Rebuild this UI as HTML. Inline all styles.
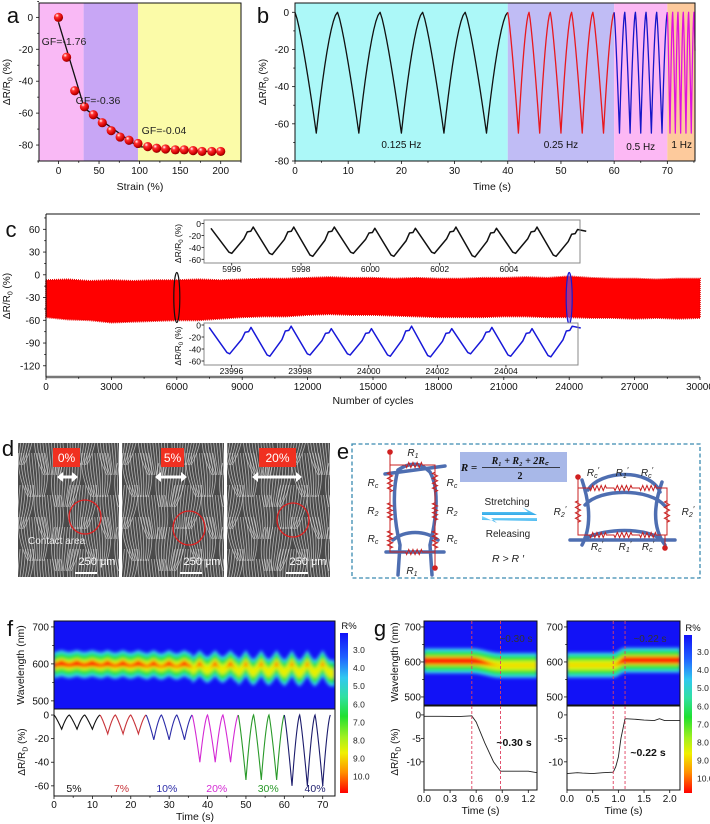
<!DOCTYPE html>
<html><head><meta charset="utf-8"><style>
html,body{margin:0;padding:0;background:#fff;}
svg{display:block;font-family:"Liberation Sans",Arial,sans-serif;}
</style></head><body>
<svg id="chart" width="710" height="824" viewBox="0 0 710 824" xmlns="http://www.w3.org/2000/svg">
<defs>
<radialGradient id="sph" cx="35%" cy="30%" r="70%"><stop offset="0" stop-color="#fff"/><stop offset="0.3" stop-color="#ff3030"/><stop offset="0.8" stop-color="#d00000"/><stop offset="1" stop-color="#800"/></radialGradient>
<linearGradient id="cbar" x1="0" y1="0" x2="0" y2="1"><stop offset="0" stop-color="#1010f8"/><stop offset="0.15" stop-color="#2060ff"/><stop offset="0.28" stop-color="#30c8f0"/><stop offset="0.4" stop-color="#30e0a0"/><stop offset="0.52" stop-color="#20e030"/><stop offset="0.65" stop-color="#a0f020"/><stop offset="0.75" stop-color="#f0f000"/><stop offset="0.87" stop-color="#ff9000"/><stop offset="1" stop-color="#ff0000"/></linearGradient>
<linearGradient id="arrowg" x1="0" y1="0" x2="0" y2="1"><stop offset="0" stop-color="#8ee0ff"/><stop offset="1" stop-color="#30a8e8"/></linearGradient>
<filter id="blur" x="-5%" y="-20%" width="110%" height="140%"><feGaussianBlur stdDeviation="1.6"/></filter>
<clipPath id="clipF"><rect x="54" y="621" width="281" height="88"/></clipPath>
<clipPath id="clipG1"><rect x="424" y="621" width="113" height="84"/></clipPath>
<clipPath id="clipG2"><rect x="567" y="621" width="113" height="84"/></clipPath>
<clipPath id="clipD0"><rect x="18" y="443" width="101" height="134"/></clipPath>
<clipPath id="clipD1"><rect x="122" y="443" width="102" height="134"/></clipPath>
<clipPath id="clipD2"><rect x="227" y="443" width="103" height="134"/></clipPath>
</defs>
</svg>
<script>
// ---------- data ----------
const aStrain = [0,10,20,32,43,54,65,76,87,98,110,121,132,144,155,166,177,189,200];
const aResp = [0,-25,-46,-56,-61,-66,-71,-75,-77,-79,-81,-82,-82.5,-83,-83,-83.5,-84,-84,-84];
const aFitX = [0,32,98,200];
const aFitY = [-3,-57,-81,-84.5];
const aGF = ['GF=-1.76','GF=-0.36','GF=-0.04'];

const bBounds = [0,40,60,70,75.2];
const bFreq = [0.125,0.25,0.5,1];
const bFreqLabel = ['0.125 Hz','0.25 Hz','0.5 Hz','1 Hz'];
const bTrough = [-65,-65,-65,-65];
const bPeak = [0,0,0,0];

const cCycles = [0,1000,2000,3000,4000,5000,6000,7000,8000,9000,10000,11000,12000,13000,14000,15000,16000,17000,18000,19000,20000,21000,22000,23000,24000,25000,26000,27000,28000,29000,30000];
const cTop = [-7,-6,-8,-7,-8,-7,-7,-6,-7,-6,-5,-5,-4,-3,-4,-4,-5,-4,-5,-5,-4,-4,-3,-4,-2,-4,-5,-5,-6,-5,-5];
const cBottom = [-56,-59,-60,-63,-62,-61,-60,-60,-58,-56,-55,-55,-53,-52,-53,-53,-54,-55,-56,-56,-56,-55,-55,-56,-56,-57,-57,-58,-57,-58,-57];
const cTicks = [60,30,0,-30,-60,-90,-120];
const in1Troughs = [-50,-52,-55,-50,-55,-50,-56,-50,-55];
const in1Peaks = [-8,-6,-6,-6,-8,-8,-6,-8,-6,-10];
const in2Troughs = [-48,-52,-50,-50,-52,-53,-48,-52,-53];
const in2Peaks = [-4,-4,-2,-6,-6,-2,-6,-4,-6,-2];

const fTroughs = [-12,-12,-12,-16,-16,-16,-21,-21,-21,-40,-40,-40,-55,-55,-55,-60,-60,-60];
const fLabels = ['5%','7%','10%','20%','30%','40%'];
const fColors = ['#111','#c8343a','#2c2ca8','#d42ad4','#2a9a2a','#1c1c6c'];

const g1T = [0,0.2,0.4,0.55,0.6,0.7,0.8,0.88,1.0,1.2,1.3];
const g1V = [-0.3,-0.3,-0.35,-0.2,-1.5,-6,-10,-12,-12,-12,-12.3];
const g2T = [0,0.2,0.3,0.5,0.7,0.9,0.95,1.0,1.05,1.13,1.3,1.5,1.7,1.8,1.9,2.2];
const g2V = [-12.5,-12.3,-12.4,-12.5,-12.3,-12.2,-11,-9,-5,-0.8,-0.9,-1.1,-1.2,-0.8,-1.2,-1.2];
const cbLabels = ['3.0','4.0','5.0','6.0','7.0','8.0','9.0','10.0'];

// ---------- helpers ----------
const NS='http://www.w3.org/2000/svg';
const S=document.getElementById('chart');
function E(tag,a,p){const e=document.createElementNS(NS,tag);for(const k in a)e.setAttribute(k,a[k]);(p||S).appendChild(e);return e;}
function lin(d0,d1,r0,r1){return v=>r0+(v-d0)/(d1-d0)*(r1-r0);}
function T(x,y,s,fs,anchor,fill,p,extra){const e=E('text',Object.assign({x:x,y:y,'font-size':fs,'text-anchor':anchor||'middle',fill:fill||'#111'},extra||{}),p);e.textContent=s;return e;}
function G(name){const g=E('g',{});return g;}
function dRTitle(x,y,fs,p,name,sub){
  const t=E('text',{x:0,y:0,'font-size':fs,'text-anchor':'middle',fill:'#111',transform:`translate(${x},${y}) rotate(-90)`},p);
  
  
  const a=E('tspan',{},t);a.textContent='ΔR/R';
  const b=E('tspan',{'font-size':fs*0.7,dy:fs*0.25},t);b.textContent=sub||'0';
  const c=E('tspan',{dy:-fs*0.25},t);c.textContent=' (%)';
}
function frame(x0,y0,x1,y1,p,name,stroke,sw){const r=E('rect',{x:x0,y:y0,width:x1-x0,height:y1-y0,fill:'none',stroke:stroke||'#111','stroke-width':sw||1},p);return r;}
function xTicks(vals,sx,y,len,p,labels,fs,ly,name){vals.forEach((v,i)=>{const l=E('line',{x1:sx(v),x2:sx(v),y1:y,y2:y+len,stroke:'#111','stroke-width':0.8},p);if(labels){const t=T(sx(v),ly,labels[i],fs,'middle','#111',p);}});}
function yTicks(vals,sy,x,len,p,labels,fs,lx,name){vals.forEach((v,i)=>{const l=E('line',{x1:x,x2:x-len,y1:sy(v),y2:sy(v),stroke:'#111','stroke-width':0.8},p);if(labels){const t=T(lx,sy(v)+3.5,labels[i],fs,'end','#111',p);}});}
function letter(x,y,s,name){const t=T(x,y,s,22,'middle','#111');}

// ---------- panel a ----------
(function(){
const g=G('panel-a');
const sx=lin(-24,225,39,241), sy=lin(9,-90,3,161);
const bands=[[-24,31,'#f9b9f5','region-low-strain'],[31,98,'#c8a6f5','region-mid-strain'],[98,225,'#fbfba8','region-high-strain']];
bands.forEach(b=>{const r=E('rect',{x:sx(b[0]),y:3,width:sx(b[1])-sx(b[0]),height:158,fill:b[2]},g);});
let d='';aFitX.forEach((x,i)=>{d+=(i?'L':'M')+sx(x)+','+sy(aFitY[i]);});
const fl=E('path',{d:d,fill:'none',stroke:'#111','stroke-width':1.3},g);


aStrain.forEach((x,i)=>{const c=E('circle',{cx:sx(x),cy:sy(aResp[i]),r:4.6,fill:'url(#sph)'},g);

});
[[64,45],[98,104],[164,134]].forEach((p,i)=>{const t=T(p[0],p[1],aGF[i],10.5,'middle','#222',g);});
frame(39,3,241,161,g,'plot-frame');
xTicks([0,50,100,150,200],sx,161,3,g,['0','50','100','150','200'],10,174,'x-axis');
xTicks([-25,25,75,125,175,225],sx,161,1.8,g,null,10,0,'x-axis-minor');
yTicks([0,-20,-40,-60,-80],sy,39,3,g,['0','-20','-40','-60','-80'],10,33,'y-axis');
yTicks([10,-10,-30,-50,-70,-90],sy,39,1.8,g,null,10,0,'y-axis-minor');
const xt=T(140,190,'Strain (%)',10.5,'middle','#111',g);
dRTitle(10,82,10,g,'y-axis-title');
letter(13,23,'a','panel-label-a');
})();

// ---------- panel b ----------
(function(){
const g=G('panel-b');
const sx=lin(0,75.2,295,695), sy=lin(5,-80,3,161);
const cols=['#acf8f8','#c0bcf5','#fcb8f4','#fdca9c'], lc=['#111','#e8181e','#1616c8','#e010e0'];
bBounds.slice(0,4).forEach((b,i)=>{const r=E('rect',{x:sx(b),y:3,width:sx(bBounds[i+1])-sx(b),height:158,fill:cols[i]},g);});
bFreq.forEach((f,i)=>{const P=1/f;let d='';let t0=bBounds[i];let first=true;
  for(let t=t0;t<bBounds[i+1]-1e-6;t+=P){for(let k=0;k<=20;k++){const s=k/20;const tt=t+s*P;if(tt>bBounds[i+1]+1e-6)break;let v;
    if(s<=0.5){const u=s/0.5;v=bPeak[i]+(bTrough[i]-bPeak[i])*Math.pow(u,1.25);}else{const u=(s-0.5)/0.5;v=bPeak[i]+(bTrough[i]-bPeak[i])*Math.pow(1-u,1.6);}
    d+=(first?'M':'L')+sx(tt).toFixed(2)+','+sy(v).toFixed(2);first=false;}}
  const p=E('path',{d:d,fill:'none',stroke:lc[i],'stroke-width':1.3,'stroke-linejoin':'round'},g);
  
  
});
[[20,148],[50,148],[65,150],[72.7,148]].forEach((p,i)=>{const t=T(sx(p[0]),p[1],bFreqLabel[i],10,'middle','#111',g);});
frame(295,3,695,161,g,'plot-frame');
xTicks([0,10,20,30,40,50,60,70],sx,161,3,g,['0','10','20','30','40','50','60','70'],10,174,'x-axis');
xTicks([5,15,25,35,45,55,65,75],sx,161,1.8,g,null,10,0,'x-axis-minor');
yTicks([0,-20,-40,-60,-80],sy,295,3,g,['0','-20','-40','-60','-80'],10,289,'y-axis');
yTicks([-10,-30,-50,-70],sy,295,1.8,g,null,10,0,'y-axis-minor');
const xt=T(492,190,'Time (s)',10.5,'middle','#111',g);
dRTitle(266,82,10,g,'y-axis-title');
letter(263,23,'b','panel-label-b');
})();

// ---------- panel c ----------
(function(){
const g=G('panel-c');
const sx=lin(0,30000,46,700), sy=lin(80.2,-134.8,214,377);
let d='';cCycles.forEach((c,i)=>{d+=(i?'L':'M')+sx(c)+','+sy(cTop[i]);});
for(let i=cCycles.length-1;i>=0;i--){d+='L'+sx(cCycles[i])+','+sy(cBottom[i]);}
const band=E('path',{d:d+'Z',fill:'#ff0000',stroke:'#ee0000','stroke-width':1.8,'stroke-dasharray':'1,1'},g);


const e1=E('ellipse',{cx:sx(6000),cy:sy(-30),rx:3,ry:(sy(-63)-sy(3))/2,fill:'none',stroke:'#111','stroke-width':1.2},g);


const e2=E('ellipse',{cx:sx(24000),cy:sy(-31),rx:3,ry:(sy(-65)-sy(3))/2,fill:'#6060ff','fill-opacity':0.5,stroke:'#1818d0','stroke-width':1.2},g);


const ax=E('line',{x1:46,x2:700,y1:377,y2:377,stroke:'#777','stroke-width':2.5},g);


const tl=E('line',{x1:46,x2:700,y1:214,y2:214,stroke:'#111','stroke-width':1},g);


const yl=E('line',{x1:46,x2:46,y1:214,y2:377,stroke:'#111','stroke-width':1},g);


const xv=[0,3000,6000,9000,12000,15000,18000,21000,24000,27000,30000];
xTicks(xv,sx,377,3,g,xv.map(String),10,390,'x-axis');
xTicks(xv.slice(0,10).map(v=>v+1500),sx,377,1.8,g,null,10,0,'x-axis-minor');
yTicks(cTicks,sy,46,3,g,cTicks.map(String),10,40,'y-axis');
yTicks([75,45,15,-15,-45,-75,-105],sy,46,1.8,g,null,10,0,'y-axis-minor');
const xt=T(373,404,'Number of cycles',10.5,'middle','#111',g);
dRTitle(10,296,10,g,'y-axis-title');
letter(11,237,'c','panel-label-c');
function inset(x0,x1,y0,y1,ix,iy,start,troughs,peaks,color,labels,labelVals,name){
  const ig=G(name);g.appendChild(ig);
  const bg=E('rect',{x:x0,y:y0,width:x1-x0,height:y1-y0,fill:'#fff'},ig);
  
  
  const P=1.17;let d='M'+ix(start-0.6)+','+iy(peaks[0]);
  troughs.forEach((tv,i)=>{const tt=start+i*P;d+='L'+ix(tt-0.08)+','+iy(tv+2)+'L'+ix(tt)+','+iy(tv)+'L'+ix(tt+0.35)+','+iy(tv+0.55*(peaks[i+1]-tv))+'L'+ix(tt+0.45)+','+iy(peaks[i+1]-8)+'L'+ix(tt+0.55)+','+iy(peaks[i+1]-7)+'L'+ix(tt+0.62)+','+iy(peaks[i+1]);});
  d+='L'+ix(start+troughs.length*P-0.3)+','+iy(peaks[peaks.length-1]-3);
  const p=E('path',{d:d,fill:'none',stroke:color,'stroke-width':1.5,'stroke-linejoin':'round'},ig);
  
  
  frame(x0,y0,x1,y1,ig,'inset-frame','#888',1);
  xTicks(labelVals,ix,y1,2.5,ig,labels,8.5,y1+9,'inset-x-axis');
  yTicks([0,-20,-40,-60],iy,x0,2.5,ig,['0','-20','-40','-60'],8.5,x0-3,'inset-y-axis');
  dRTitle(x0-23,(y0+y1)/2+2,8.5,ig,'inset-y-axis-title');
}
const iy1=lin(0,-60,223.5,259.3);
inset(204,580,220,263,lin(5995.2,6006.05,204,580),iy1,5996.0,in1Troughs,in1Peaks,'#111',['5996','5998','6000','6002','6004'],[5996,5998,6000,6002,6004],'inset-cycle-6000');
const iy2=lin(0,-60,325,361);
inset(204,578,323,365,lin(23995.2,24006.1,204,578),iy2,23995.95,in2Troughs,in2Peaks,'#1818d8',['23996','23998','24000','24002','24004'],[23996,23998,24000,24002,24004],'inset-cycle-24000');
})();

// ---------- panel d ----------
(function(){
const g=G('panel-d');
letter(8,456,'d','panel-label-d');
const imgs=[[18,119,'0%',[53,80],[57,78],[85,517]],[122,224,'5%',[161,184],[155,187],[189,528]],[227,330,'20%',[259,296],[252,302],[293,520]]];
imgs.forEach((im,k)=>{
  const ig=G('sem-image-'+im[2].replace('%','pct'));g.appendChild(ig);
  const bg=E('rect',{x:im[0],y:443,width:im[1]-im[0],height:134,fill:'#4a4a4a'},ig);
  
  
  const tg=E('g',{'clip-path':'url(#clipD'+k+')'},ig);
  
  
  const cw=(im[1]-im[0])/3.2;
  for(let c=-1;c<4;c++){for(let r=-1;r<5;r++){
    const cx=im[0]+c*cw+(r%2)*cw/2, cy=443+r*32+(c%2)*10, tilt=((r+c)%2?1:-1)*(0.35+k*0.05);
    for(let s=-5;s<=5;s++){
      const off=s*cw/12;
      const x0=cx+off-tilt*6, y0=cy-22, x1=cx+off*0.6+tilt*6, y1=cy+22;
      const l=E('path',{d:`M${x0.toFixed(1)},${y0} Q${(cx+off*1.3).toFixed(1)},${cy} ${x1.toFixed(1)},${y1}`,fill:'none',stroke:'#d8d8d8','stroke-width':0.8,'stroke-opacity':0.75},tg);
      
      
    }}}
  const lb=E('rect',{x:im[3][0],y:448,width:im[3][1]-im[3][0],height:19,fill:'#f03020'},ig);
  
  
  const lt=T((im[3][0]+im[3][1])/2,462,im[2],12,'middle','#fff',ig);
  const a=im[4];
  const ar=E('path',{d:`M${a[0]},477 L${a[0]+6},472 L${a[0]+6},475.5 L${a[1]-6},475.5 L${a[1]-6},472 L${a[1]},477 L${a[1]-6},482 L${a[1]-6},478.5 L${a[0]+6},478.5 L${a[0]+6},482 Z`,fill:'#fff'},ig);
  
  
  const ci=E('ellipse',{cx:im[5][0],cy:im[5][1],rx:16,ry:17,fill:'none',stroke:'#e02020','stroke-width':1.3},ig);
  
  
  const sb=T(im[1]-22,565,'250 μm',11,'middle','#fff',ig);
  const sl=E('line',{x1:im[1]-44,x2:im[1]-22,y1:573,y2:573,stroke:'#fff','stroke-width':2},ig);
  
  
});
const ca=T(28,544,'Contact area',10,'start','#eee',g);
})();

// ---------- panel e ----------
(function(){
const g=G('panel-e');
letter(343,459,'e','panel-label-e');
const box=E('rect',{x:352,y:444,width:348,height:134,fill:'#fff',stroke:'#3a8ab0','stroke-width':1.3,'stroke-dasharray':'4,2.5'},g);


function zig(x1,y1,x2,y2,p){const dx=x2-x1,dy=y2-y1,L=Math.hypot(dx,dy),ux=dx/L,uy=dy/L,nx=-uy,ny=ux;let d=`M${x1},${y1}`;const a=L*0.15,b=L*0.85,n=8;d+=`L${x1+ux*a},${y1+uy*a}`;for(let i=1;i<=n;i++){const t=a+(b-a)*(i-0.5)/n,s=(i%2?1:-1)*2.6;d+=`L${x1+ux*t+nx*s},${y1+uy*t+ny*s}`;}d+=`L${x1+ux*b},${y1+uy*b}L${x2},${y2}`;const e=E('path',{d:d,fill:'none',stroke:'#c82020','stroke-width':1},p);}
function wire(d,p){const e=E('path',{d:d,fill:'none',stroke:'#c82020','stroke-width':1},p);}
function tube(d,p){const e=E('path',{d:d,fill:'none',stroke:'#3b5ea8','stroke-width':3.5,'stroke-linecap':'round','stroke-opacity':0.9},p);}
function dot(x,y,p){const e=E('circle',{cx:x,cy:y,r:2.8,fill:'#d02020'},p);}
function lab(x,y,s,sub,p,prime){const t=E('text',{x:x,y:y,'font-size':10,'font-style':'italic','text-anchor':'middle',fill:'#222'},p);const a=E('tspan',{},t);a.textContent='R';const b=E('tspan',{'font-size':7,dy:2},t);b.textContent=sub;if(prime){const c=E('tspan',{dy:-5,'font-size':8},t);c.textContent='′';}}
const L=G('circuit-unstretched');g.appendChild(L);
tube('M398,470 C410,462 420,462 430,472 C440,490 436,520 430,545 M398,470 C392,490 394,520 400,545 M393,540 C405,530 425,530 438,540 M386,552 L444,552 M400,545 L398,575 M430,545 L432,575 M385,474 L445,466',L);
wire('M390,452 L390,465 L402,465 M426,465 L435,465 L435,552 L435,568 M390,465 L390,552 L402,552 M426,552 L435,552',L);
zig(402,465,426,465,L);zig(402,552,426,552,L);
zig(390,468,390,496,L);zig(390,499,390,524,L);zig(390,527,390,552,L);
zig(435,468,435,496,L);zig(435,499,435,524,L);zig(435,527,435,552,L);
dot(390,452,L);dot(435,568,L);
lab(413,456,'R','1',L);lab(412,574,'R','1',L);
lab(373,486,'R','c',L);lab(373,514,'R','2',L);lab(373,542,'R','c',L);
lab(452,486,'R','c',L);lab(452,514,'R','2',L);lab(452,542,'R','c',L);
const fb=E('rect',{x:460,y:452,width:107,height:30,fill:'#a8b8e8'},g);


const f1=T(469,471,'R =',11,'middle','#111',g,{'font-weight':'bold','font-style':'italic','font-family':'Liberation Serif, serif'});
const f2=T(520,464,'R₁ + R₂ + 2R꜀',10,'middle','#111',g,{'font-weight':'bold','font-style':'italic','font-family':'Liberation Serif, serif'});
const fl=E('line',{x1:482,x2:560,y1:467.5,y2:467.5,stroke:'#111','stroke-width':0.8},g);
const f3=T(520,479,'2',10,'middle','#111',g,{'font-weight':'bold','font-family':'Liberation Serif, serif'});
const st=T(507,505,'Stretching',10,'middle','#222',g);
const a1=E('path',{d:'M482,512 L528,512 L522,507 L537,515 L482,515 Z',fill:'url(#arrowg)'},g);
const a2=E('path',{d:'M537,518 L491,518 L497,523 L482,516 L482,520 L537,521 Z',fill:'url(#arrowg)'},g);
const rl=T(508,537,'Releasing',10,'middle','#222',g);
const rr=T(508,562,'R > R ′',10.5,'middle','#222',g,{'font-style':'italic'});
const R=G('circuit-stretched');g.appendChild(R);
tube('M588,490 C600,470 650,468 660,492 M585,505 C600,488 650,488 665,506 M582,480 C592,510 590,530 582,545 M662,482 C652,510 654,530 665,545 M570,540 L675,540 M585,538 C610,528 640,528 660,538',R);
wire('M578,477 L578,488 L586,488 M578,488 L578,535 L586,535 M660,488 L667,488 L667,535 L665,535 L665,548 M660,535 L667,535',R);
zig(586,488,610,488,R);zig(610,488,636,488,R);zig(636,488,660,488,R);
zig(586,535,610,535,R);zig(610,535,636,535,R);zig(636,535,660,535,R);
zig(578,496,578,527,R);zig(667,496,667,527,R);
dot(578,477,R);dot(665,548,R);
lab(593,476,'R','c',R,1);lab(622,476,'R','1',R,1);lab(647,476,'R','c',R,1);
lab(560,515,'R','2',R,1);lab(688,515,'R','2',R,1);
lab(597,550,'R','c',R,1);lab(625,550,'R','1',R,1);lab(648,550,'R','c',R,1);
})();

// ---------- heatmap helper ----------
function heatBands(p,sx,sy,ts,centerFn,redFn,clip,name){
  const hg=E('g',{'clip-path':'url(#'+clip+')'},p);
  
  
  const bg=E('rect',{x:0,y:600,width:710,height:120,fill:'#1212f6'},hg);
  
  
  const fg=E('g',{filter:'url(#blur)'},hg);
  
  
  const layers=[[36,'#3aaaf8'],[32,'#30e0e0'],[27,'#20e040'],[16,'#90f020'],[11,'#e8f000'],[-1,'#ff8000'],[-2,'#ff1a00']];
  layers.forEach(L=>{let up='',dn='';ts.forEach((t,i)=>{const c=centerFn(t);let w=L[0];if(L[0]===-1)w=redFn(t)+3;if(L[0]===-2)w=redFn(t);w=Math.max(0,w);up+=(i?'L':'M')+sx(t).toFixed(2)+','+sy(c+w).toFixed(2);dn='L'+sx(t).toFixed(2)+','+sy(c-w).toFixed(2)+dn;});
    const e=E('path',{d:up+dn+'Z',fill:L[1]},fg);
    
    });
}
function colorbar(x,y0,y1,lx,p){
  const r=E('rect',{x:x,y:y0,width:8,height:y1-y0,fill:'url(#cbar)'},p);
  
  
  const t=T(x+9,y0-4,'R%',9.5,'middle','#111',p);
  cbLabels.forEach((s,i)=>{const l=T(lx,y0+20+i*18.1,s,8.5,'start','#222',p);});
}

// ---------- panel f ----------
(function(){
const g=G('panel-f');
const sx=lin(0,73.2,54,335), hy=lin(716,478,621,709), sy=lin(5.1,-68.6,709,796);
const P=4;
function fR(t){const i=Math.min(fTroughs.length-1,Math.floor(t/P));let s=(t-i*P)/P;s=Math.max(0,Math.min(1,s));const T0=fTroughs[i];return s<0.5?T0*Math.pow(s/0.5,1.2):T0*Math.pow(Math.max(0,1-(s-0.5)/0.5),1.5);}
function fT(t){return fTroughs[Math.min(fTroughs.length-1,Math.floor(t/P))];}
const ts=[];for(let t=0;t<=73.2;t+=0.1)ts.push(t);
heatBands(g,sx,hy,ts,t=>602-0.45*(fR(t)-fT(t)),t=>7-0.25*(fR(t)-fT(t))-0.06*(-fT(t)),'clipF','wavelength-heatmap');
frame(54,621,335,709,g,'heatmap-frame');
yTicks([700,600,500],hy,54,3,g,['700','600','500'],10,49,'heatmap-y-axis');
yTicks([650,550],hy,54,1.8,g,null,10,0,'heatmap-y-axis-minor');
const wt=T(0,0,'Wavelength (nm)',10.5,'middle','#111',g,{transform:'translate(24,665) rotate(-90)'});
for(let s=0;s<6;s++){let d='';for(let k=0;k<=120;k++){const t=s*12+k*0.1;d+=(k?'L':'M')+sx(t).toFixed(2)+','+sy(fR(Math.min(t,71.99))).toFixed(2);}
  const p=E('path',{d:d,fill:'none',stroke:fColors[s],'stroke-width':1.1},g);
  
  
  const l=T(sx([5.2,17.6,29.4,42.4,55.8,68][s]),792,fLabels[s],10.5,'middle',fColors[s],g);
  
  }
frame(54,709,335,796,g,'line-plot-frame');
xTicks([0,10,20,30,40,50,60,70],sx,796,3,g,['0','10','20','30','40','50','60','70'],10,808,'x-axis');
xTicks([5,15,25,35,45,55,65],sx,796,1.8,g,null,10,0,'x-axis-minor');
yTicks([0,-20,-40,-60],sy,54,3,g,['0','-20','-40','-60'],10,49,'y-axis');
const xt=T(195,820,'Time (s)',10.5,'middle','#111',g);
dRTitle(25,752,10,g,'y-axis-title','D');
colorbar(340,633,793,353,g);
letter(10,636,'f','panel-label-f');
})();

// ---------- panel g ----------
(function(){
const g=G('panel-g');
letter(380,636,'g','panel-label-g');
const hy=lin(717,477,621,705), sy=lin(1.9,-16,706,790);
function sub(x0,x1,tmax,times,vals,cBefore,cAfter,tA,tB,redBefore,redAfter,clip,ticks,tlab,note,noteX,name,ylx){
  const sg=G(name);g.appendChild(sg);
  const sx=lin(0,tmax,x0,x1);
  const ts=[];for(let t=0;t<=tmax+0.001;t+=tmax/200)ts.push(t);
  const f=t=>{if(t<=tA)return 0;if(t>=tB)return 1;const u=(t-tA)/(tB-tA);return u*u*(3-2*u);};
  heatBands(sg,sx,hy,ts,t=>cBefore+(cAfter-cBefore)*f(t),t=>redBefore+(redAfter-redBefore)*f(t),clip,'wavelength-heatmap');
  frame(x0,621,x1,705,sg,'heatmap-frame');
  yTicks([700,600,500],hy,x0,3,sg,['700','600','500'],10,ylx,'heatmap-y-axis');
  yTicks([650,550],hy,x0,1.8,sg,null,10,0,'heatmap-y-axis-minor');
  let d='';times.forEach((t,i)=>{d+=(i?'L':'M')+sx(t).toFixed(2)+','+sy(vals[i]).toFixed(2);});
  const p=E('path',{d:d,fill:'none',stroke:'#222','stroke-width':0.9},sg);
  
  
  frame(x0,706,x1,790,sg,'line-plot-frame');
  [tA,tB].forEach(t=>{const l=E('line',{x1:sx(t),x2:sx(t),y1:621,y2:790,stroke:'#e04060','stroke-width':0.9,'stroke-dasharray':'3,2'},sg);
    
    });
  xTicks(ticks,sx,790,3,sg,tlab,10,802,'x-axis');
  yTicks([0,-5,-10],sy,x0,3,sg,['0','-5','-10'],10,ylx,'y-axis');
  const xt=T((x0+x1)/2,814,'Time (s)',10.5,'middle','#111',sg);
  const n1=T(noteX,642,note,10,'middle','#333',sg);
  const n2=T(noteX-2,746+(name==='response-release'?10:0),note,10.5,'middle','#111',sg,{'font-weight':'bold'});
}
sub(424,537,1.3,g1T,g1V,603,590,0.55,0.88,8,-2,'clipG1',[0,0.3,0.6,0.9,1.2],['0.0','0.3','0.6','0.9','1.2'],'~0.30 s',516,'response-stretch',421);
sub(567,680,2.2,g2T,g2V,591,605,0.9,1.13,-2,8,'clipG2',[0,0.5,1,1.5,2],['0.0','0.5','1.0','1.5','2.0'],'~0.22 s',650,'response-release',563);
const wt=T(0,0,'Wavelength (nm)',10.5,'middle','#111',g,{transform:'translate(398,662) rotate(-90)'});
dRTitle(398,752,10,g,'y-axis-title','D');
colorbar(684,635,793,697,g);
})();
</script>
</body></html>
